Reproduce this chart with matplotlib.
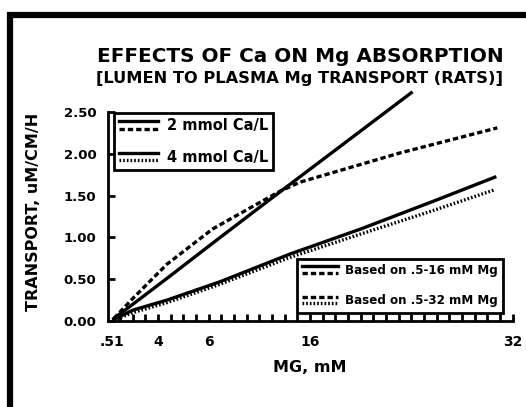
import matplotlib
matplotlib.use("Agg")
import matplotlib.pyplot as plt
from matplotlib.lines import Line2D
from matplotlib.legend_handler import HandlerBase

plt.rcParams["font.family"] = ["DejaVu Sans"]
plt.rcParams["font.weight"] = "bold"

# data (Mg in mM, transport in uM/cm/h)
mg_steep = [0.5, 2.0, 4.7, 8.3, 11.5, 14.2, 24.0]
tr_steep = [0.03, 0.20, 0.51, 0.93, 1.30, 1.61, 2.73]

mg_curve = [0.5, 2.0, 4.7, 8.3, 11.0, 13.6, 15.2, 23.1, 30.8]
tr_curve = [0.03, 0.27, 0.68, 1.10, 1.33, 1.55, 1.66, 2.01, 2.31]

mg_low = [0.5, 2.0, 4.7, 8.9, 14.4, 20.0, 25.7, 30.6]
tr_low_solid = [0.02, 0.13, 0.25, 0.47, 0.80, 1.10, 1.43, 1.72]
tr_low_dot = [0.01, 0.10, 0.22, 0.44, 0.76, 1.04, 1.32, 1.57]

xtick_pos = [0.35, 4, 8, 16, 32]
xtick_lab = [".51", "4", "6", "16", "32"]
ytick_pos = [0, 0.5, 1.0, 1.5, 2.0, 2.5]
ytick_lab = ["0.00", "0.50", "1.00", "1.50", "2.00", "2.50"]

legend_ca = ["2 mmol Ca/L", "4 mmol Ca/L"]
legend_fit = ["Based on .5-16 mM Mg", "Based on .5-32 mM Mg"]

SOLID = dict(color="black", lw=2.4, ls="-")
DASH = dict(color="black", lw=2.4, ls=(0, (1.6, 0.9)))
DOT = dict(color="black", lw=2.4, ls=(0, (0.5, 0.6)))


class TwoLineHandler(HandlerBase):
    # legend sample made of two stacked line stubs
    def create_artists(self, legend, orig_handle, xdescent, ydescent,
                       width, height, fontsize, trans):
        top, bot = orig_handle
        arts = []
        for h, yy in ((top, height * 1.0), (bot, height * 0.05)):
            l = Line2D([-xdescent, width - xdescent], [yy - ydescent, yy - ydescent])
            l.update_from(h)
            l.set_transform(trans)
            arts.append(l)
        return arts


fig = plt.figure(figsize=(5.26, 4.07), dpi=100)
ax = fig.add_axes([107.5 / 526, 1 - 321 / 407, 405 / 526, 209 / 407])

ax.plot(mg_steep, tr_steep, clip_on=False, **SOLID)
ax.plot(mg_curve, tr_curve, clip_on=False, **DASH)
ax.plot(mg_low, tr_low_solid, clip_on=False, **SOLID)
ax.plot(mg_low, tr_low_dot, clip_on=False, **DOT)

ax.set_xlim(0, 32)
ax.set_ylim(0, 2.5)
for s in ["top", "right"]:
    ax.spines[s].set_visible(False)
for s in ["left", "bottom"]:
    ax.spines[s].set_linewidth(2)

ax.xaxis.remove_overlapping_locs = False
ax.set_xticks(xtick_pos)
ax.set_xticklabels(xtick_lab)
ax.set_xticks(range(1, 33), minor=True)
ax.tick_params(axis="x", which="major", length=0, pad=10, labelsize=10)
ax.tick_params(axis="x", which="minor", direction="in", length=5, width=2)
ax.set_yticks(ytick_pos)
ax.set_yticklabels(ytick_lab)
ax.tick_params(axis="y", direction="in", length=5, width=2, pad=8, labelsize=9.5)

ax.set_xlabel("MG, mM", fontsize=11.5, fontweight="bold", labelpad=8)
fig.text(34 / 526, 1 - 212 / 407, "TRANSPORT, uM/CM/H", rotation=90,
         ha="center", va="center", fontsize=11.5, fontweight="bold")

fig.text(300 / 526, 1 - 57 / 407, "EFFECTS OF Ca ON Mg ABSORPTION",
         ha="center", va="center", fontsize=14.4, fontweight="bold")
fig.text(300 / 526, 1 - 79 / 407, "[LUMEN TO PLASMA Mg TRANSPORT (RATS)]",
         ha="center", va="center", fontsize=11.7, fontweight="bold")

# legends
p_solid = Line2D([], [], **SOLID)
p_dash = Line2D([], [], **DASH)
p_dot = Line2D([], [], **DOT)

leg1 = ax.legend([(p_solid, p_dash), (p_solid, p_dot)], legend_ca,
                 handler_map={tuple: TwoLineHandler()},
                 loc="upper left", bbox_to_anchor=(0.015, 0.995),
                 borderaxespad=0, fancybox=False, framealpha=1,
                 edgecolor="black", handlelength=2.7,
                 handleheight=0.5, labelspacing=1.15, borderpad=0.35,
                 handletextpad=0.6, prop={"weight": "bold", "size": 10.5})
leg1.get_frame().set_linewidth(2)
ax.add_artist(leg1)

leg2 = ax.legend([(p_solid, p_dash), (p_dash, p_dot)], legend_fit,
                 handler_map={tuple: TwoLineHandler()},
                 loc="lower right", bbox_to_anchor=(0.977, 0.04),
                 borderaxespad=0, fancybox=False, framealpha=1,
                 edgecolor="black", handlelength=3.0,
                 handleheight=0.5, labelspacing=1.45, borderpad=0.45,
                 handletextpad=0.6, prop={"weight": "bold", "size": 8.6})
leg2.get_frame().set_linewidth(2)

# heavy frame along top and left edge of the figure
fig.add_artist(Line2D([10 / 526, 10 / 526, 1.05], [-0.05, 1 - 15 / 407, 1 - 15 / 407],
                      transform=fig.transFigure, color="black", lw=4.5,
                      solid_joinstyle="miter"))

fig.savefig("out.png", dpi=100)
